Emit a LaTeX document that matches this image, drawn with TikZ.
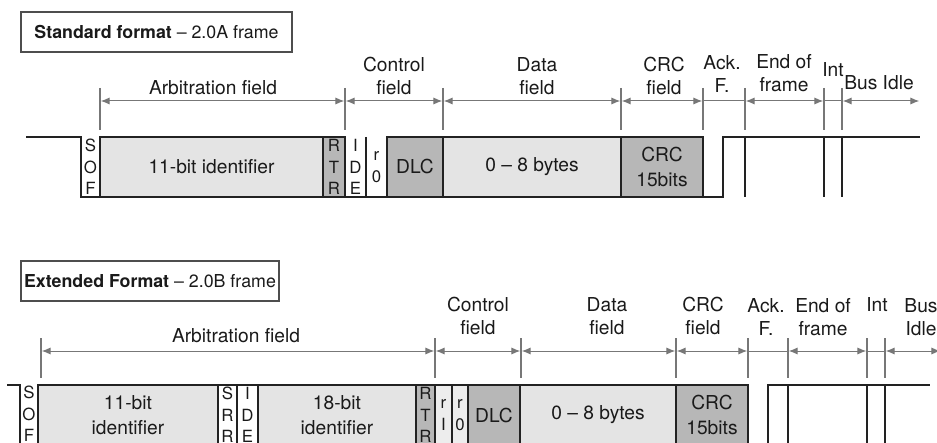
\documentclass[tikz,border=0pt]{standalone}
\usepackage{fontspec}
\setmainfont{TeX Gyre Heros}
\usetikzlibrary{arrows.meta}
\definecolor{ink}{HTML}{222222}
\definecolor{txt}{HTML}{1A1A1A}
\definecolor{lightfill}{HTML}{E4E4E4}
\definecolor{midfill}{HTML}{B7B7B7}
\definecolor{palefill}{HTML}{EDEDED}
\definecolor{tickgray}{HTML}{777777}
\tikzset{
  cell/.style={draw=ink,line width=1pt,anchor=north west,inner sep=0pt,outer sep=0pt,
    minimum height=30pt,align=center,text=txt,font=\fontsize{9.6}{12.2}\selectfont},
  lcell/.style={cell,fill=lightfill},
  mcell/.style={cell,fill=midfill},
  wcell/.style={cell,fill=white},
  pcell/.style={cell,fill=palefill},
  bits/.style={font=\fontsize{8.4}{10.8}\selectfont},
  opencell/.style={bits,align=center,text=txt,inner sep=0pt},
  lbl/.style={font=\fontsize{9.6}{11.2}\selectfont,text=txt,align=center,inner sep=0pt},
  titlebox/.style={draw=ink!80,line width=0.8pt,fill=white,inner sep=0pt,text=txt,
    font=\fontsize{8.9}{10}\selectfont,minimum height=20pt},
  sig/.style={draw=ink,line width=1pt},
  tick/.style={draw=tickgray,line width=0.6pt},
  dim/.style={{Latex[length=4.4pt,width=3.6pt]}-{Latex[length=4.4pt,width=3.6pt]},draw=tickgray,
    line width=0.5pt,shorten <=0.4pt,shorten >=0.4pt},
  plain/.style={draw=tickgray,line width=0.5pt},
}

\begin{document}
\begin{tikzpicture}[x=0.5pt,y=-0.5pt]
  \useasboundingbox (0,0) rectangle (937,443);
  \clip (0,0) rectangle (937,443);

  % standard format, 2.0A
  \node[titlebox,minimum width=135.5pt] (stdT) at (156.5,32) {\textbf{Standard format} -- 2.0A frame};

  \node[lcell,minimum width=111.5pt] (sId) at (100,137) {11-bit identifier};
  \node[mcell,bits,minimum width=11pt] (sRtr) at (323,137) {R\\T\\R};
  \node[mcell,minimum width=28pt] (sDlc) at (387,137) {DLC};
  \node[lcell,minimum width=89pt] (sData) at (443,137) {0 -- 8 bytes};
  \node[mcell,minimum width=41pt] (sCrc) at (621,137) {CRC\\15bits};
  \node[opencell] (sSof) at (90.5,167) {S\\O\\F};
  \node[opencell] (sIde) at (355.5,167) {I\\D\\E};
  \node[opencell] (sR0) at (376.5,167) {r\\0};
  \draw[sig] (26,137) -- (81,137) -- (81,197) -- (723,197) -- (723,137) -- (920,137);
  \draw[sig] (366,137) -- (366,197);
  \foreach \x in {745,824,842} \draw[sig] (\x,137) -- (\x,197);

  \foreach \x in {100,345,443,621,703,745,824,842} \draw[tick] (\x,88) -- (\x,130);
  \coordinate (s0) at (100,101); \coordinate (s1) at (345,101);
  \coordinate (s2) at (443,101); \coordinate (s3) at (621,101);
  \coordinate (s4) at (703,101); \coordinate (s5) at (745,101);
  \coordinate (s6) at (824,101); \coordinate (s7) at (842,101);
  \coordinate (s8) at (920,101);
  \draw[dim] (s0) -- (s1); \draw[dim] (s1) -- (s2); \draw[dim] (s2) -- (s3);
  \draw[dim] (s3) -- (s4); \draw[plain] (s4) -- (s5); \draw[dim] (s5) -- (s6);
  \draw[plain] (s6) -- (s7); \draw[dim] (s7) -- (s8);

  \node[lbl] (sArbL) at (213,88) {Arbitration field};
  \node[lbl] (sCtlL) at (394,76) {Control\\field};
  \node[lbl] (sDataL) at (537,76) {Data\\field};
  \node[lbl] (sCrcL) at (664,76) {CRC\\field};
  \node[lbl] (sAckL) at (722,74) {Ack.\\F.};
  \node[lbl] (sEofL) at (784,73) {End of\\frame};
  \node[lbl] (sIntL) at (833,70) {Int};
  \node[lbl] (sIdleL) at (879,83) {Bus Idle};

  % extended format, 2.0B
  \node[titlebox,minimum width=129pt] (extT) at (150,281) {\textbf{Extended Format} -- 2.0B frame};

  \node[lcell,minimum width=90pt] (eId) at (38,385) {11-bit\\identifier};
  \node[wcell,bits,minimum width=9.5pt] (eSrr) at (218,385) {S\\R\\R};
  \node[wcell,bits,minimum width=10.5pt] (eIde) at (237,385) {I\\D\\E};
  \node[lcell,minimum width=79pt] (eId2) at (258,385) {18-bit\\identifier};
  \node[mcell,bits,minimum width=9.5pt] (eRtr) at (416,385) {R\\T\\R};
  \node[pcell,bits,minimum width=8.5pt] (eR1) at (435,385) {r\\I};
  \node[pcell,bits,minimum width=8pt] (eR0) at (452,385) {r\\0};
  \node[mcell,minimum width=26pt] (eDlc) at (468,385) {DLC};
  \node[lcell,minimum width=78pt] (eData) at (520,385) {0 -- 8 bytes};
  \node[mcell,minimum width=36pt] (eCrc) at (676,385) {CRC\\15bits};
  \node[opencell] (eSof) at (29,414) {S\\O\\F};
  \draw[sig] (7,385) -- (20,385) -- (20,445) -- (768,445) -- (768,385) -- (930,385);
  \foreach \x in {788,867,885} \draw[sig] (\x,385) -- (\x,445);

  \foreach \x in {41,435,521,676,748,788,867,885} \draw[tick] (\x,338) -- (\x,378);
  \coordinate (e0) at (41,351); \coordinate (e1) at (435,351);
  \coordinate (e2) at (521,351); \coordinate (e3) at (676,351);
  \coordinate (e4) at (748,351); \coordinate (e5) at (788,351);
  \coordinate (e6) at (867,351); \coordinate (e7) at (885,351);
  \coordinate (e8) at (941,351);
  \draw[dim] (e0) -- (e1); \draw[dim] (e1) -- (e2); \draw[dim] (e2) -- (e3);
  \draw[dim] (e3) -- (e4); \draw[plain] (e4) -- (e5); \draw[dim] (e5) -- (e6);
  \draw[plain] (e6) -- (e7); \draw[dim] (e7) -- (e8);

  \node[lbl] (eArbL) at (236,336) {Arbitration field};
  \node[lbl] (eCtlL) at (478,316) {Control\\field};
  \node[lbl] (eDataL) at (607,316) {Data\\field};
  \node[lbl] (eCrcL) at (703,316) {CRC\\field};
  \node[lbl] (eAckL) at (766,317) {Ack.\\F.};
  \node[lbl] (eEofL) at (823,317) {End of\\frame};
  \node[lbl] (eIntL) at (877,305) {Int};
  \node[lbl] (eIdleL) at (921,317) {Bus\\Idle};
\end{tikzpicture}
\end{document}
